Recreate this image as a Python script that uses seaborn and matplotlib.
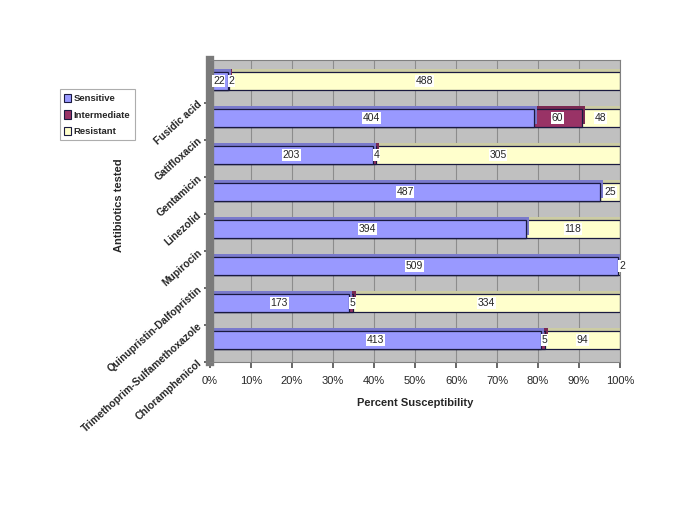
import matplotlib
matplotlib.use("Agg")
import matplotlib.pyplot as plt
import matplotlib.patheffects as pe
from matplotlib.patches import Patch
import numpy as np
import seaborn as sns

# data
antibiotics = ["Fusidic acid", "Gatifloxacin", "Gentamicin", "Linezolid", "Mupirocin",
               "Quinupristin-Dalfopristin", "Trimethoprim-Sulfamethoxazole", "Chloramphenicol"]
sensitive = [22, 404, 203, 487, 394, 509, 173, 413]
intermediate = [2, 60, 4, 0, 0, 0, 5, 5]
resistant = [488, 48, 305, 25, 118, 2, 334, 94]
x_ticks = [0, 10, 20, 30, 40, 50, 60, 70, 80, 90, 100]

sns.set_theme(style="white")
plt.rcParams['font.family'] = ['Liberation Sans', 'DejaVu Sans']

s = np.array(sensitive, dtype=float)
i_ = np.array(intermediate, dtype=float)
r = np.array(resistant, dtype=float)
total = s + i_ + r
pct_s = s / total * 100
pct_si = (s + i_) / total * 100
pct_all = total / total * 100

col_s, col_i, col_r = "#9999FF", "#993366", "#FFFFCC"

fig = plt.figure(figsize=(6.85, 5.13), dpi=100)
ax = fig.add_axes([0.3066, 0.2943, 0.5985, 0.5887])
ax.set_facecolor("#C0C0C0")

# stacked look: draw cumulative totals back to front, with a small 3d-ish shadow
fx = [pe.SimplePatchShadow(offset=(2.2, 2.2), rho=0.8, alpha=1), pe.Normal()]
for vals, col in [(pct_all, col_r), (pct_si, col_i), (pct_s, col_s)]:
    sns.barplot(x=vals, y=antibiotics, order=antibiotics, orient="h", color=col,
                saturation=1, width=0.48, edgecolor="#1a1a40", linewidth=0.9, ax=ax)
for p in ax.patches:
    p.set_path_effects(fx)

# data labels
box = dict(facecolor="white", edgecolor="none", pad=0.5)
for k in range(len(antibiotics)):
    segs = [(0, pct_s[k], sensitive[k]), (pct_s[k], pct_si[k], intermediate[k]),
            (pct_si[k], 100, resistant[k])]
    for a, b, v in segs:
        if v == 0:
            continue
        xc = (a + b) / 2
        if b - a < 2:
            xc = a + 0.9
        ax.text(xc, k, str(v), ha="center", va="center", fontsize=7.5, bbox=box, zorder=5)

ax.set_xlim(0, 100)
ax.set_ylim(7.5, -0.56)
ax.set_xticks(x_ticks)
ax.set_xticklabels([f"{t}%" for t in x_ticks], fontsize=8)
ax.xaxis.grid(True, color="#8c8c8c", linewidth=0.8)
ax.set_axisbelow(True)

# category labels sit half a slot below their bars, as in the original
ax.set_yticks(np.arange(len(antibiotics)) + 0.59)
ax.set_yticklabels(antibiotics, fontsize=7.4, fontweight="bold")
for lab in ax.get_yticklabels():
    lab.set_rotation(42)
    lab.set_rotation_mode("anchor")
    lab.set_ha("right")
    lab.set_va("center")
ax.tick_params(axis="y", length=4, pad=3, color="#555555", left=True)
ax.tick_params(axis="x", length=4, pad=6, color="#555555", bottom=True)

for sp in ["top", "right", "bottom"]:
    ax.spines[sp].set_color("#808080")
    ax.spines[sp].set_linewidth(0.8)
ax.spines["left"].set_color("#7a7a7a")
ax.spines["left"].set_linewidth(6)

ax.set_xlabel("Percent Susceptibility", fontsize=8, fontweight="bold", labelpad=9)
ax.set_ylabel("Antibiotics tested", fontsize=8, fontweight="bold")
ax.yaxis.set_label_coords(-0.21, 0.52)

handles = [Patch(facecolor=c, edgecolor="#1a1a40", linewidth=0.8) for c in (col_s, col_i, col_r)]
leg = fig.legend(handles, ["Sensitive", "Intermediate", "Resistant"], loc="upper left",
                 bbox_to_anchor=(0.087, 0.826), frameon=True, fancybox=False,
                 prop={"size": 6.8, "weight": "bold"}, handlelength=0.75, handleheight=1.0,
                 handletextpad=0.3, labelspacing=0.75, borderpad=0.45, borderaxespad=0)
leg.get_frame().set_edgecolor("#999999")
leg.get_frame().set_linewidth(0.8)

fig.savefig("out.png", dpi=100)
